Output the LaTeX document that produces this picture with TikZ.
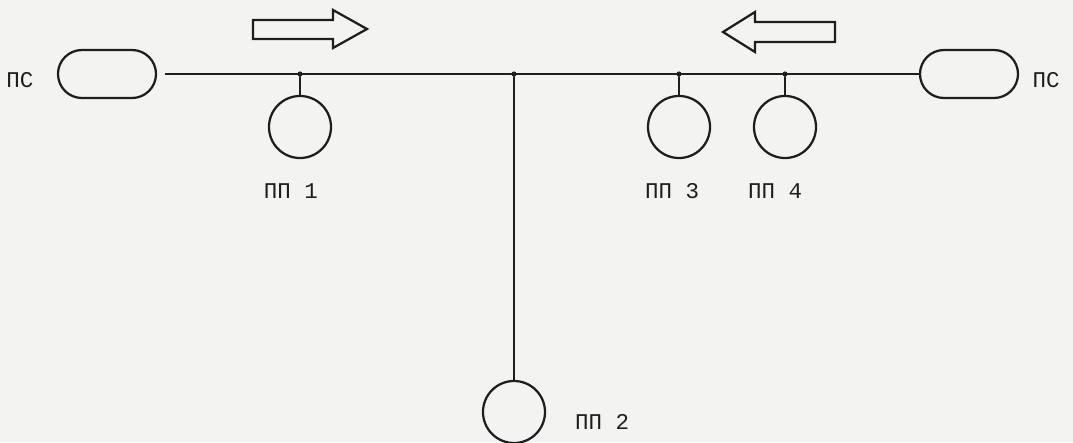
\documentclass[tikz,border=0pt]{standalone}
\usepackage{fontspec}
\setmonofont{Liberation Mono}
\usepackage{xcolor}
\usepackage{tikz}
\usetikzlibrary{calc}
\definecolor{paper}{HTML}{F3F3F1}
\definecolor{ink}{HTML}{1E1E1E}
\tikzset{
  wire/.style={draw=ink, line width=1.5pt, line cap=round},
  station/.style={draw=ink, line width=1.6pt, rounded corners=0.6cm, minimum width=2.45cm, minimum height=1.2cm, inner sep=0pt},
  point/.style={circle, draw=ink, line width=1.6pt, minimum size=1.55cm, inner sep=0pt},
  tap/.style={circle, fill=ink, inner sep=1.3pt},
  flow/.style={draw=ink, line width=1.6pt, line join=miter},
  lab/.style={text=ink, font=\ttfamily\fontsize{16}{18}\selectfont, inner sep=0pt},
}
\begin{document}
\begin{tikzpicture}[x=0.025cm,y=-0.025cm]
  \fill[paper] (0,0) rectangle (1073,442);
  \useasboundingbox (0,0) rectangle (1073,442);

  % stations at both ends
  \node[station] (sl) at (107,74) {};
  \node[station] (sr) at (969,74) {};
  \node[lab] (lsl) at (20,80) {ПС};
  \node[lab] (lsr) at (1046,80) {ПС};

  % main line and taps
  \draw[wire, shorten <=6pt] (sl.east) -- (sr.west);
  \node[tap] (t1) at (300,74) {};
  \node[tap] (j)  at (514,74) {};
  \node[tap] (t3) at (679,74) {};
  \node[tap] (t4) at (785,74) {};

  \node[point] (p1) at (300,127) {};
  \node[point] (p3) at (679,127) {};
  \node[point] (p4) at (785,127) {};
  \node[point] (p2) at (514,412) {};

  \draw[wire] (t1) -- (p1.north);
  \draw[wire] (t3) -- (p3.north);
  \draw[wire] (t4) -- (p4.north);
  \draw[wire] (j) -- (p2.north);

  \node[lab] (l1) at (291,191) {ПП 1};
  \node[lab] (l3) at (672,191) {ПП 3};
  \node[lab] (l4) at (775,191) {ПП 4};
  \node[lab] (l2) at (602,422) {ПП 2};

  % direction arrows
  \draw[flow] (253,20) -- (333,20) -- (333,10) -- (367,29) -- (333,48) -- (333,39) -- (253,39) -- cycle;
  \draw[flow] (835,22) -- (755,22) -- (755,12) -- (723,32) -- (755,52) -- (755,42) -- (835,42) -- cycle;
\end{tikzpicture}
\end{document}
